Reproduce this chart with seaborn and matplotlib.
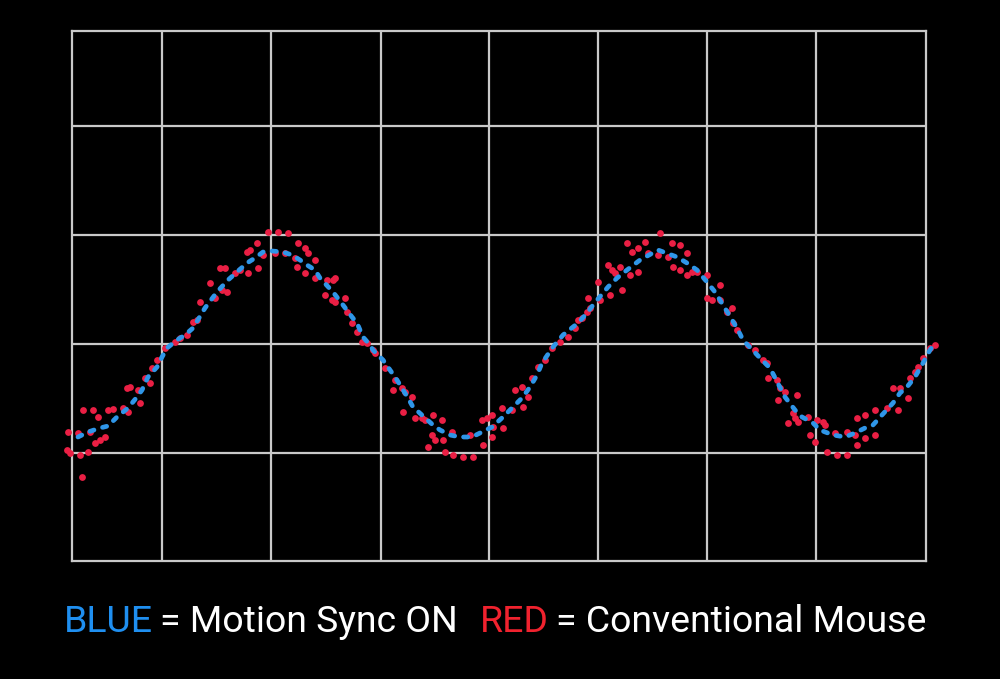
import matplotlib
matplotlib.use("Agg")
import matplotlib.pyplot as plt
import seaborn as sns
import pandas as pd

# time axis (arbitrary units) and cursor position
blue_x = [6, 16, 28, 36, 45, 56, 65, 70, 76, 85, 90, 95, 105, 113, 121, 133, 145, 156, 165, 175,
          183, 191, 200, 211, 220, 228, 235, 243, 248, 261, 271, 280, 285, 291, 298, 301, 311, 318,
          325, 336, 341, 361, 368, 378, 388, 400, 410, 420, 431, 440, 450, 458, 465, 470, 481, 491,
          506, 515, 521, 536, 545, 555, 568, 586, 605, 615, 625, 635, 643, 648, 665, 671, 690, 698,
          713, 723, 730, 741, 748, 761, 773, 783, 793, 801, 810, 821, 828, 835, 843, 851, 858, 863]
blue_y = [124, 129, 133, 135, 144, 153, 164, 171, 184, 194, 204, 213, 221, 226, 233, 253, 269, 281,
          289, 298, 303, 309, 310, 309, 306, 301, 296, 291, 283, 269, 256, 244, 238, 224, 216, 211,
          201, 191, 181, 163, 154, 136, 131, 126, 124, 124, 129, 134, 144, 153, 163, 174, 186, 198,
          214, 226, 238, 248, 256, 274, 283, 291, 301, 311, 304, 298, 291, 279, 269, 261, 233, 221,
          201, 193, 164, 151, 144, 138, 131, 126, 124, 128, 133, 136, 146, 158, 168, 174, 184, 198,
          211, 218]

red_x = [-4, 6, -5, -2, 8, 16, 10, 11, 21, 26, 18, 23, 28, 33, 36, 41, 51, 56, 55, 58, 68, 66, 73,
         78, 80, 85, 93, 103, 108, 115, 121, 125,
         128, 143, 138, 150, 155, 148, 153, 163, 168, 176, 175, 178, 185, 186, 191, 196, 206, 216,
         203, 213, 223, 225, 226, 233, 236, 233, 243, 243, 255, 261, 263, 253, 260, 263, 273, 275,
         280, 285, 295, 301, 303,
         290, 313, 323, 321, 330, 333, 340, 331, 343, 350, 353, 361, 370, 360, 363, 356, 371, 373,
         380, 381, 391, 401, 398, 411, 410, 415, 420, 420, 421, 430, 431, 440, 443, 450, 451, 456,
         460,
         466, 473, 480, 488, 496, 503, 506, 510, 515, 518, 516, 528, 526, 536, 540, 543, 548, 538,
         550, 555, 560, 566, 573, 576, 558, 566, 588, 586, 600, 608, 615, 596, 601, 608, 615, 620,
         625, 635, 635, 640,
         648, 648, 655, 660, 661, 665, 676, 683, 691, 695, 696, 705, 708, 713, 706, 725, 721, 723,
         726, 716, 736, 745, 751, 753, 738, 743, 755, 765, 775, 763, 775, 783, 785, 793, 785, 793,
         803, 803, 815, 821, 828, 826, 836, 838, 843, 846, 851, 858, 863]
red_y = [129, 128, 111, 108, 106, 109, 84, 151, 151, 144, 129, 118, 121, 124, 151, 152, 153, 149,
         173, 174, 158, 171, 183, 178, 193, 201, 213, 219, 223, 226, 239, 241,
         259, 263, 278, 271, 269, 293, 293, 288, 291, 288, 309, 311, 318, 293, 306, 329, 329, 328,
         308, 308, 303, 294, 318, 313, 308, 288, 301, 283, 281, 281, 283, 266, 261, 259, 263, 249,
         238, 229, 218, 211, 208,
         219, 193, 181, 171, 173, 169, 164, 149, 143, 143, 141, 146, 141, 126, 121, 114, 121, 109,
         129, 106, 104, 104, 126, 116, 141, 143, 146, 124, 134, 153, 133, 151, 171, 174, 154, 164,
         183,
         194, 201, 213, 219, 224, 233, 241, 243, 249, 253, 263, 261, 279, 296, 291, 288, 294, 266,
         271, 318, 309, 313, 319, 308, 286, 289, 328, 306, 318, 316, 308, 304, 294, 291, 286, 289,
         289, 286, 263, 261,
         276, 261, 249, 253, 238, 231, 216, 211, 201, 198, 183, 181, 173, 169, 161, 166, 148, 143,
         139, 138, 144, 141, 139, 136, 126, 119, 109, 106, 106, 128, 129, 126, 116, 123, 143, 146,
         126, 151, 153, 173, 173, 151, 163, 183, 189, 194, 203, 213, 216]

grid_x = [90, 199, 309, 417, 526, 635, 744]
grid_y = [108, 217, 326, 435]

caption = [("BLUE", "#1f8ff0"),
           ("= Motion Sync ON", "white"),
           ("RED", "#f0222e"),
           ("= Conventional Mouse", "white")]

BLUE = "#2f96e8"
RED = "#ea1f44"
GRID = "#c9c9c9"

sns.set_theme(style="dark")
plt.rcParams['font.family'] = ['Roboto', 'DejaVu Sans']

fig = plt.figure(figsize=(10, 6.79), dpi=100, facecolor="black")
ax = fig.add_axes([0.072, 0.1738, 0.854, 0.7805])
ax.set_facecolor("black")

red = pd.DataFrame({"t": red_x, "pos": red_y})
blue = pd.DataFrame({"t": blue_x, "pos": blue_y})

sns.scatterplot(data=red, x="t", y="pos", color=RED, s=24, linewidth=0,
                ax=ax, clip_on=False, zorder=3)
sns.lineplot(data=blue, x="t", y="pos", color=BLUE, estimator=None, sort=False,
             linewidth=3.4, linestyle=(0, (0.9, 1.9)), dash_capstyle="round",
             ax=ax, clip_on=False, zorder=4)

ax.set_xlim(0, 854)
ax.set_ylim(0, 530)
ax.set_xticks(grid_x)
ax.set_yticks(grid_y)
ax.grid(True, color=GRID, linewidth=1.6)
ax.tick_params(left=False, bottom=False, labelleft=False, labelbottom=False)
ax.set_xlabel("")
ax.set_ylabel("")
for sp in ax.spines.values():
    sp.set_visible(True)
    sp.set_color(GRID)
    sp.set_linewidth(1.6)

# caption: one font size, chunks laid out left to right between x=64 and x=926 px
yb = 0.069
gaps = [7, 22, 8]
texts = [fig.text(0, yb, s, color=c, fontsize=28, va="baseline") for s, c in caption]
fig.canvas.draw()
r = fig.canvas.get_renderer()
widths = [t.get_window_extent(r).width for t in texts]
scale = (862 - sum(gaps)) / sum(widths)
x = 64.0
for i, t in enumerate(texts):
    t.set_fontsize(28 * scale)
    t.set_x(x / 1000)
    x += widths[i] * scale + (gaps[i] if i < len(gaps) else 0)

fig.savefig("out.png", dpi=100, facecolor="black")
